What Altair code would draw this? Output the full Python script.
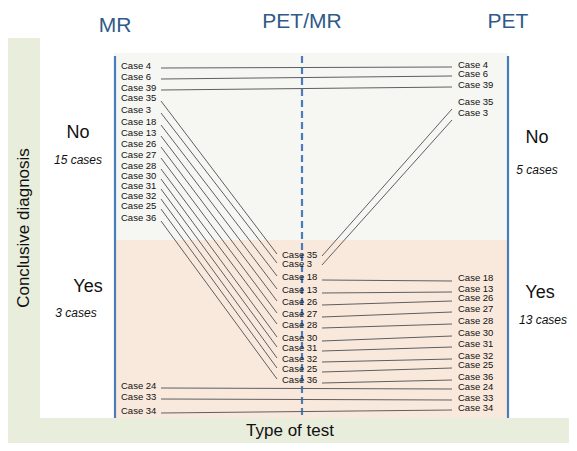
import altair as alt
import pandas as pd

# ---------------- data ----------------
mr_cases = ["Case 4", "Case 6", "Case 39", "Case 35", "Case 3", "Case 18", "Case 13",
            "Case 26", "Case 27", "Case 28", "Case 30", "Case 31", "Case 32", "Case 25",
            "Case 36", "Case 24", "Case 33", "Case 34"]
mr_y = [66, 77, 88, 98, 110, 122, 133, 144, 155, 166, 176, 186, 196, 206, 218, 386, 397, 411]

petmr_cases = ["Case 35", "Case 3", "Case 18", "Case 13", "Case 26", "Case 27", "Case 28",
               "Case 30", "Case 31", "Case 32", "Case 25", "Case 36"]
petmr_y = [255, 264, 277, 290, 302, 314, 325, 338, 348, 359, 369, 380]

pet_cases = ["Case 4", "Case 6", "Case 39", "Case 35", "Case 3", "Case 18", "Case 13",
             "Case 26", "Case 27", "Case 28", "Case 30", "Case 31", "Case 32", "Case 25",
             "Case 36", "Case 24", "Case 33", "Case 34"]
pet_y = [65, 74, 85, 102, 113, 278, 289, 298, 309, 321, 333, 344, 356, 365, 377, 387, 398, 408]

columns = ["MR", "PET/MR", "PET"]
column_x = [115, 302, 508]

# ---------------- layout constants ----------------
FONT = "Liberation Sans"
X_DOM = [8, 569]
Y_DOM = [8, 443]
LBL_X = {"MR": 121, "PET/MR": 282, "PET": 458}
ANCH = {"mr_out": 161, "pm_in": 277, "pm_out": 322, "pet_in": 452}

xs = alt.Scale(domain=X_DOM, nice=False, zero=False)
ys = alt.Scale(domain=Y_DOM, nice=False, zero=False, reverse=True)


def X(f="x"):
    return alt.X(f"{f}:Q", scale=xs, axis=None)


def Y(f="y"):
    return alt.Y(f"{f}:Q", scale=ys, axis=None)


# ---------------- background panels ----------------
bg = pd.DataFrame([
    {"x": 8, "x2": 40, "y": 38, "y2": 418, "c": "#e9eddc"},
    {"x": 8, "x2": 569, "y": 418, "y2": 443, "c": "#e9eddc"},
    {"x": 114, "x2": 508, "y": 53, "y2": 240, "c": "#f6f6f3"},
    {"x": 114, "x2": 508, "y": 240, "y2": 418, "c": "#f9e9dd"},
])
bg_layer = alt.Chart(bg).mark_rect().encode(
    x=X(), x2="x2:Q", y=Y(), y2="y2:Q", color=alt.Color("c:N", scale=None))

# ---------------- vertical column lines ----------------
vl = pd.DataFrame({"x": column_x, "y": [56] * 3, "y2": [418] * 3,
                   "dash": ["solid", "dashed", "solid"]})
vline_solid = alt.Chart(vl[vl.dash == "solid"]).mark_rule(color="#4a7cbc", strokeWidth=2.2).encode(
    x=X(), y=Y(), y2="y2:Q")
vline_dash = alt.Chart(vl[vl.dash == "dashed"]).mark_rule(
    color="#4a7cbc", strokeWidth=2.2, strokeDash=[7, 4]).encode(x=X(), y=Y(), y2="y2:Q")

# ---------------- connecting segments ----------------
mr_map = dict(zip(mr_cases, mr_y))
pm_map = dict(zip(petmr_cases, petmr_y))
pet_map = dict(zip(pet_cases, pet_y))
segs = []
for c in mr_cases:
    if c in pm_map:
        segs.append({"x": ANCH["mr_out"], "y": mr_map[c] + 3, "x2": ANCH["pm_in"], "y2": pm_map[c] - 1})
    elif c in pet_map:
        segs.append({"x": ANCH["mr_out"], "y": mr_map[c] + 2, "x2": ANCH["pet_in"], "y2": pet_map[c] + 2})
for c in petmr_cases:
    if c in pet_map:
        if pet_map[c] < pm_map[c] - 50:
            segs.append({"x": ANCH["pm_out"], "y": pm_map[c] + 1, "x2": ANCH["pet_in"], "y2": pet_map[c] + 7})
        else:
            segs.append({"x": ANCH["pm_out"], "y": pm_map[c] + 3, "x2": ANCH["pet_in"], "y2": pet_map[c] + 3})
seg_layer = alt.Chart(pd.DataFrame(segs)).mark_rule(color="#5f5f5f", strokeWidth=1).encode(
    x=X(), y=Y(), x2="x2:Q", y2="y2:Q")

# ---------------- case labels ----------------
lab = ([{"x": LBL_X["MR"], "y": y, "t": c} for c, y in zip(mr_cases, mr_y)] +
       [{"x": LBL_X["PET/MR"], "y": y, "t": c} for c, y in zip(petmr_cases, petmr_y)] +
       [{"x": LBL_X["PET"], "y": y, "t": c} for c, y in zip(pet_cases, pet_y)])
lab_layer = alt.Chart(pd.DataFrame(lab)).mark_text(
    align="left", baseline="middle", font=FONT, fontSize=9.5, color="#111111").encode(
    x=X(), y=Y(), text="t:N")

# ---------------- column titles ----------------
titles = pd.DataFrame({"x": column_x, "y": [26, 22, 22], "t": columns})
title_layer = alt.Chart(titles).mark_text(
    align="center", baseline="middle", font=FONT, fontSize=21, color="#2f5a8a").encode(
    x=X(), y=Y(), text="t:N")

# ---------------- No / Yes annotations ----------------
big = pd.DataFrame({"x": [78, 88, 537, 540], "y": [133, 287, 138, 293],
                    "t": ["No", "Yes", "No", "Yes"]})
big_layer = alt.Chart(big).mark_text(
    align="center", baseline="middle", font=FONT, fontSize=18, color="#111111").encode(
    x=X(), y=Y(), text="t:N")
small = pd.DataFrame({"x": [78, 76, 537, 543], "y": [160, 313, 170, 320],
                      "t": ["15 cases", "3 cases", "5 cases", "13 cases"]})
small_layer = alt.Chart(small).mark_text(
    align="center", baseline="middle", font=FONT, fontSize=12, fontStyle="italic",
    color="#111111").encode(x=X(), y=Y(), text="t:N")

# ---------------- axis titles ----------------
ytitle = alt.Chart(pd.DataFrame({"x": [24], "y": [228], "t": ["Conclusive diagnosis"]})).mark_text(
    align="center", baseline="middle", font=FONT, fontSize=17, angle=270, color="#111111").encode(
    x=X(), y=Y(), text="t:N")
xtitle = alt.Chart(pd.DataFrame({"x": [290], "y": [431], "t": ["Type of test"]})).mark_text(
    align="center", baseline="middle", font=FONT, fontSize=17, color="#111111").encode(
    x=X(), y=Y(), text="t:N")

chart = alt.layer(
    bg_layer, vline_solid, vline_dash, seg_layer, lab_layer, title_layer,
    big_layer, small_layer, ytitle, xtitle
).properties(
    width=561, height=435, padding=0, autosize=alt.AutoSizeParams(type="none"),
    background="white"
).configure_view(stroke=None)

chart.save("out.html", embed_options={"renderer": "svg", "actions": False})
